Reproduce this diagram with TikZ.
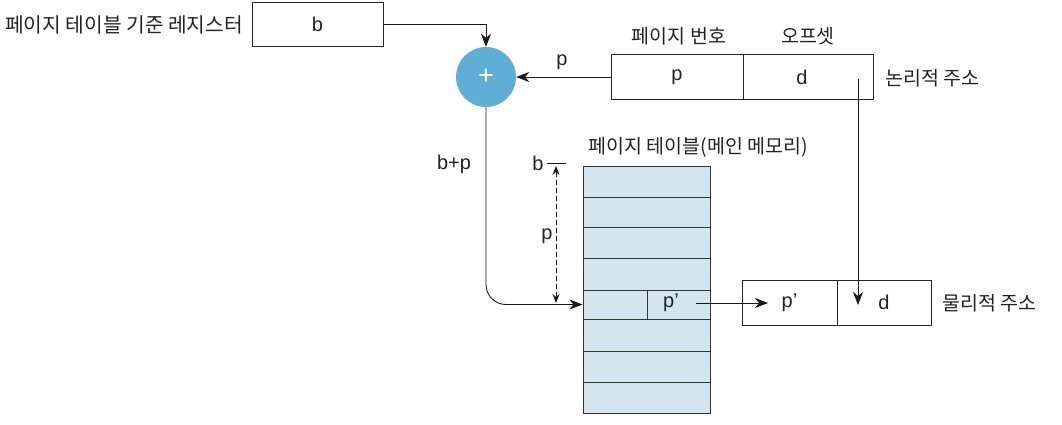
\documentclass[tikz,border=0pt]{standalone}
\usepackage{fontspec}
\setmainfont{Liberation Sans}
\newfontfamily\kr{Noto Sans CJK KR}
\usetikzlibrary{arrows.meta}
\definecolor{plusblue}{HTML}{5FAED6}
\definecolor{tblfill}{HTML}{D3E5EF}
\definecolor{tbledge}{HTML}{333333}
\definecolor{txt}{HTML}{222222}
\begin{document}
\begin{tikzpicture}[x=1pt,y=-1pt,
  cell/.style={draw=black!85, line width=0.9pt, inner sep=0pt, text=txt, font=\fontsize{20}{22}\selectfont},
  kl/.style={inner sep=0pt, text=txt, font=\kr\fontsize{19.5}{22}\selectfont},
  ll/.style={inner sep=0pt, text=txt, font=\fontsize{20}{22}\selectfont},
  conn/.style={line width=0.9pt, draw=black!90},
  tip/.style={-{Stealth[length=13pt,width=10pt,inset=4pt]}},
  dtip/.style={{Stealth[length=9pt,width=7pt,inset=3pt]}-{Stealth[length=9pt,width=7pt,inset=3pt]}},
  tline/.style={draw=tbledge, line width=1pt},
]
\useasboundingbox (0,0) rectangle (1062,424);

% base register
\node[kl, anchor=west, font=\kr\fontsize{20.3}{22}\selectfont] (brl) at (5,25) {페이지 테이블 기준 레지스터};
\node[cell, minimum width=131pt, minimum height=44pt] (breg) at (317.5,24) {b};

% adder
\node[circle, fill=plusblue, minimum size=60pt, inner sep=0pt, text=white,
      font=\fontsize{27}{28}\selectfont] (add) at (486,77) {+};

% logical address
\node[cell, minimum width=132pt, minimum height=45pt] (lp) at (677,77) {p};
\node[cell, minimum width=130pt, minimum height=45pt] (ld) at (808,77) {\hspace*{-12pt}d};
\node[kl] (pnl) at (679,36) {페이지 번호};
\node[kl] (offl) at (808,36) {오프셋};
\node[kl, anchor=west] (lal) at (885,78) {논리적 주소};
\node[ll] (plab) at (562,62) {p};

% page table
\node[tline, fill=tblfill, minimum width=127pt, minimum height=247pt, inner sep=0pt] (tbl) at (646.5,289.5) {};
\foreach \yy in {197,227,258,290,319,351,382}
  \draw[tline] (583,\yy) -- (710,\yy);
\node[tline, minimum width=63pt, minimum height=29pt, inner sep=0pt] (ppc) at (678.5,304.5) {};
\node[ll] (pp) at (671,303) {p’};
\node[kl, anchor=base west] (ttl) at (588,153) {페이지 테이블};
\node[anchor=base west, inner sep=0pt, text=txt, font=\kr\fontsize{19.5}{22}\selectfont] (ttl2) at (ttl.base east) {(메인 메모리)};

% b tick and dashed p span
\node[ll] (bt) at (538,163) {b};
\coordinate (tk1) at (547,163);
\coordinate (tk2) at (566,163);
\draw[conn] (tk1) -- (tk2);
\coordinate (dtop) at (556,166);
\coordinate (dbot) at (556,303);
\draw[conn, dash pattern=on 5pt off 3pt, dtip] (dtop) -- (dbot);
\node[ll] (pspan) at (547,236) {p};

% b+p label
\node[ll] (bpl) at (454,164) {b+p};

% physical address
\node[cell, minimum width=95pt, minimum height=45pt] (pp2) at (789.5,302.5) {p’};
\node[cell, minimum width=94pt, minimum height=45pt] (pd) at (884,302.5) {d};
\node[kl, anchor=west] (pal) at (942,303) {물리적 주소};

% connectors
\draw[conn, tip] (breg.east) -| (add.north);
\draw[conn, tip] (lp.west) -- (add.east);
\draw[conn, tip, rounded corners=20pt] (add.south) |- (tbl.west |- ppc.center);
\coordinate (ps) at (696,303);
\coordinate (pe) at (768,303);
\draw[conn, tip] (ps) -- (pe);
\coordinate (ds) at (858,79);
\coordinate (de) at (858,305);
\draw[conn, tip] (ds) -- (de);
\end{tikzpicture}
\end{document}
